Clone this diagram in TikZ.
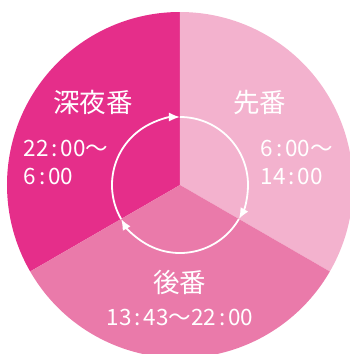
\documentclass[tikz,border=0pt]{standalone}
\usepackage{fontspec}
\usepackage{xcolor}
\usepackage{tikz}
\setmainfont{Noto Sans CJK JP}
\definecolor{nightpink}{RGB}{229, 46, 138}
\definecolor{earlypink}{RGB}{243, 178, 206}
\definecolor{laterpink}{RGB}{234, 122, 170}
\newcommand{\tcolon}{\hspace{3pt}:\hspace{3pt}}
\usetikzlibrary{arrows.meta, positioning, calc}

\begin{document}
\begin{tikzpicture}[
    x=1pt, y=1pt,
    sector/.style={draw=none},
    title/.style={text=white, font=\fontsize{26.5}{30}\selectfont},
    hours/.style={text=white, align=left, font=\fontsize{22.5}{28}\selectfont},
    cycle/.style={-{Latex[length=11pt, width=9pt]}, white, line width=1.8pt}
]
    \clip (-180, -169) rectangle (170, 185);

    % Shifts
    \fill[sector, nightpink] (0, 0) -- (90:173) arc[start angle=90, end angle=210, radius=173] -- cycle;
    \fill[sector, earlypink] (0, 0) -- (-30:173) arc[start angle=-30, end angle=90, radius=173] -- cycle;
    \fill[sector, laterpink] (0, 0) -- (210:173) arc[start angle=210, end angle=330, radius=173] -- cycle;

    % Rotation
    \coordinate (top) at (90:68);
    \coordinate (right) at (-30:68);
    \coordinate (left) at (210:68);
    \draw[cycle] (left) arc[start angle=210, end angle=90, radius=68];
    \draw[cycle] (top) arc[start angle=90, end angle=-30, radius=68];
    \draw[cycle] (right) arc[start angle=-30, end angle=-150, radius=68];

    % Labels
    \node[title] (night) at (-87, 83) {深夜番};
    \node[hours, anchor=north west] (nighttime) at (-160, 48) {22\tcolon 00～\\6\tcolon 00};
    \node[title] (early) at (80, 83) {先番};
    \node[hours, anchor=north west] (earlytime) at (77, 48) {6\tcolon 00～\\14\tcolon 00};
    \node[title] (later) at (0, -97) {後番};
    \node[hours] (latertime) at (0, -132) {13\tcolon 43～22\tcolon 00};

\end{tikzpicture}
\end{document}
